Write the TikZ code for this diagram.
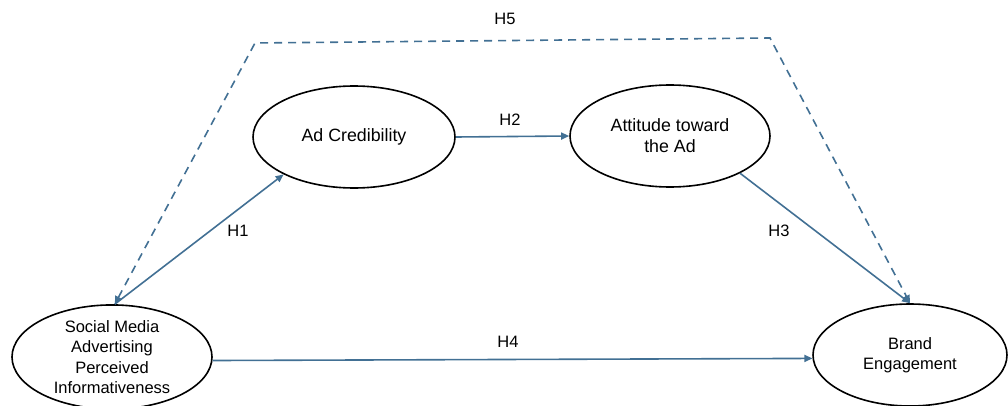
\documentclass[tikz,border=0pt]{standalone}
\usepackage{fontspec}
\setmainfont{Liberation Sans}
\usetikzlibrary{arrows.meta,shapes.geometric}
\definecolor{linkblue}{RGB}{66,112,148}
\tikzset{
  construct/.style={ellipse,draw=black,line width=1.6pt,inner sep=0pt,align=center,
    font=\fontsize{16.5}{20.5}\selectfont},
  bigtext/.style={font=\fontsize{17.8}{21}\selectfont},
  link/.style={draw=linkblue,line width=1.6pt,-{Triangle[length=8pt,width=7pt]}},
  dlink/.style={draw=linkblue,line width=1.6pt,dash pattern=on 8pt off 6pt,
    {Triangle[length=8pt,width=7pt]}-{Triangle[length=8pt,width=7pt]}},
  hlabel/.style={font=\fontsize{16.5}{19}\selectfont,inner sep=0pt}
}
\begin{document}
\begin{tikzpicture}[x=1pt,y=1pt]
\useasboundingbox (0,0) rectangle (1008,405);
\node[construct,minimum width=200pt,minimum height=100pt] (SM) at (112,48)
  {Social Media\\Advertising\\Perceived\\Informativeness};
\node[construct,minimum width=194pt,minimum height=102pt] (BE) at (910,50)
  {Brand\\Engagement};
\node[construct,bigtext,minimum width=202pt,minimum height=102pt] (AC) at (354,268)
  {Ad Credibility};
\node[construct,bigtext,minimum width=200pt,minimum height=102pt] (AT) at (670,269)
  {Attitude toward\\the Ad};
\coordinate (c1) at (255,362);
\coordinate (c2) at (770,367);
\draw[link] (SM.87) -- (AC.208);
\draw[link] (AC.east) -- (AT.west);
\draw[link] (AT.332) -- (BE.north);
\draw[link] (SM.-2.5) -- (BE.182.5);
\draw[dlink] (SM.87) -- (c1) -- (c2) -- (BE.north);
\node[hlabel] (h1) at (238,174) {H1};
\node[hlabel] (h2) at (510,285) {H2};
\node[hlabel] (h3) at (779,174) {H3};
\node[hlabel] (h4) at (508,63) {H4};
\node[hlabel] (h5) at (505,386) {H5};
\end{tikzpicture}
\end{document}
